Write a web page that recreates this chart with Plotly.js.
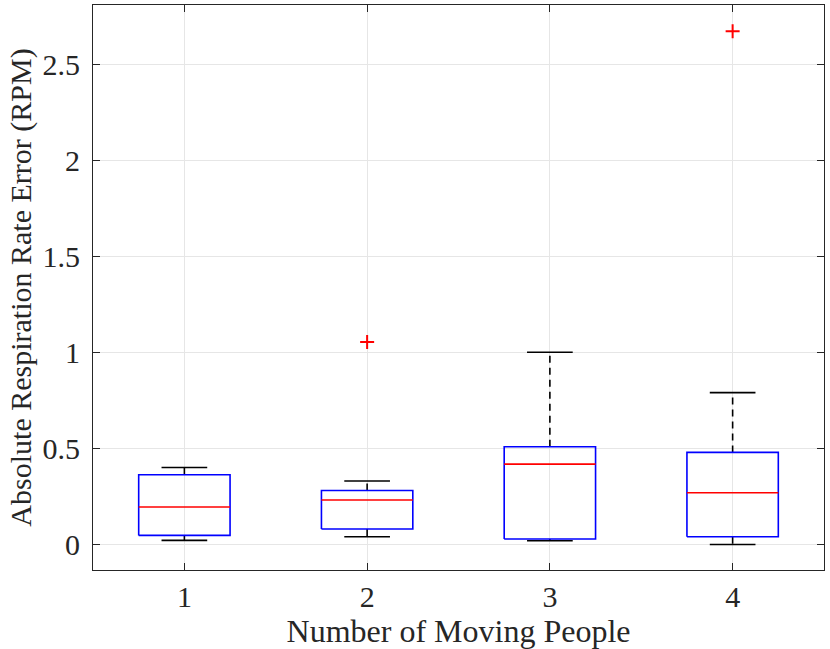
<!DOCTYPE html>
<html>
<head>
<meta charset="utf-8">
<script src="https://cdn.plot.ly/plotly-3.0.1.min.js"></script>
<style>html,body{margin:0;padding:0;background:#fff;}#chart{width:830px;height:649px;}</style>
</head>
<body>
<div id="chart"></div>
<script>
var groups = [1, 2, 3, 4];
var tickLabels = ['1', '2', '3', '4'];
var q1 = [0.047, 0.080, 0.028, 0.040];
var median = [0.195, 0.231, 0.418, 0.269];
var q3 = [0.363, 0.281, 0.508, 0.479];
var lowerWhisker = [0.021, 0.040, 0.019, 0.000];
var upperWhisker = [0.400, 0.330, 1.000, 0.790];
var outlierX = [2, 4];
var outlierY = [1.054, 2.67];

var boxHalf = 0.25, capHalf = 0.125;
var traces = [];
groups.forEach(function(g, i) {
  traces.push({x: [g, g, null, g, g], y: [q3[i], upperWhisker[i], null, q1[i], lowerWhisker[i]],
    mode: 'lines', line: {color: '#000', width: 1.6, dash: '7px,5px'}, hoverinfo: 'skip'});
  traces.push({x: [g - capHalf, g + capHalf, null, g - capHalf, g + capHalf],
    y: [upperWhisker[i], upperWhisker[i], null, lowerWhisker[i], lowerWhisker[i]],
    mode: 'lines', line: {color: '#000', width: 1.6}, hoverinfo: 'skip'});
  traces.push({x: [g - boxHalf, g + boxHalf, g + boxHalf, g - boxHalf, g - boxHalf],
    y: [q1[i], q1[i], q3[i], q3[i], q1[i]],
    mode: 'lines', line: {color: '#0000ff', width: 1.6}, hoverinfo: 'skip'});
  traces.push({x: [g - boxHalf, g + boxHalf], y: [median[i], median[i]],
    mode: 'lines', line: {color: '#ff0000', width: 1.6}, hoverinfo: 'skip'});
});
traces.push({x: outlierX, y: outlierY, mode: 'markers',
  marker: {symbol: 'cross-thin-open', size: 10, color: '#ff0000', line: {color: '#ff0000', width: 2}}});

var fam = '"Liberation Serif", "Times New Roman", serif';
var layout = {
  width: 830, height: 649,
  margin: {l: 92.5, r: 5.7, t: 5, b: 79},
  showlegend: false,
  paper_bgcolor: '#fff', plot_bgcolor: '#fff',
  font: {family: fam, color: '#262626', size: 30},
  xaxis: {
    range: [0.5, 4.5], tickvals: groups, ticktext: tickLabels,
    ticks: 'inside', ticklen: 7, tickcolor: '#262626', tickwidth: 1,
    showgrid: true, gridcolor: '#e6e6e6', gridwidth: 1, zeroline: false,
    showline: true, linecolor: '#262626', linewidth: 1, mirror: 'ticks',
    tickfont: {family: fam, size: 30, color: '#262626'},
    title: {text: 'Number of Moving People', font: {family: fam, size: 32, color: '#262626'}, standoff: 0}
  },
  yaxis: {
    range: [-0.133, 2.807], tickvals: [0, 0.5, 1, 1.5, 2, 2.5], ticktext: ['0', '0.5', '1', '1.5', '2', '2.5'],
    ticks: 'inside', ticklen: 7, tickcolor: '#262626', tickwidth: 1,
    showgrid: true, gridcolor: '#e6e6e6', gridwidth: 1, zeroline: false,
    showline: true, linecolor: '#262626', linewidth: 1, mirror: 'ticks',
    ticklabelstandoff: 6,
    tickfont: {family: fam, size: 30, color: '#262626'},
    title: {text: 'Absolute Respiration Rate Error (RPM)', font: {family: fam, size: 30, color: '#262626'}, standoff: 2}
  }
};
Plotly.newPlot('chart', traces, layout, {displayModeBar: false, staticPlot: true});
</script>
</body>
</html>
